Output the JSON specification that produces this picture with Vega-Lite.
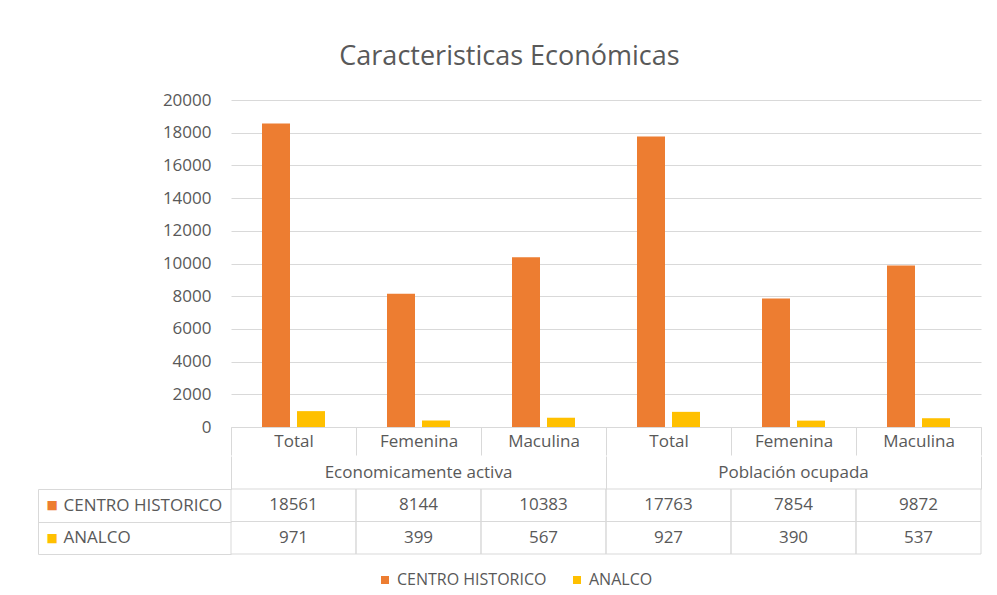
{
  "$schema": "https://vega.github.io/schema/vega-lite/v6.json",
  "background": "white",
  "padding": {"left": 37, "top": 43, "right": 17, "bottom": 5},
  "title": {
    "text": "Caracteristicas Económicas",
    "font": "Open Sans",
    "fontSize": 27,
    "fontWeight": "normal",
    "color": "#595959",
    "anchor": "middle",
    "frame": "bounds",
    "offset": 20
  },
  "datasets": {
    "valores": [
      {"columna": "Economicamente activa|Total", "serie": "CENTRO HISTORICO", "valor": 18561},
      {"columna": "Economicamente activa|Femenina", "serie": "CENTRO HISTORICO", "valor": 8144},
      {"columna": "Economicamente activa|Maculina", "serie": "CENTRO HISTORICO", "valor": 10383},
      {"columna": "Población ocupada|Total", "serie": "CENTRO HISTORICO", "valor": 17763},
      {"columna": "Población ocupada|Femenina", "serie": "CENTRO HISTORICO", "valor": 7854},
      {"columna": "Población ocupada|Maculina", "serie": "CENTRO HISTORICO", "valor": 9872},
      {"columna": "Economicamente activa|Total", "serie": "ANALCO", "valor": 971},
      {"columna": "Economicamente activa|Femenina", "serie": "ANALCO", "valor": 399},
      {"columna": "Economicamente activa|Maculina", "serie": "ANALCO", "valor": 567},
      {"columna": "Población ocupada|Total", "serie": "ANALCO", "valor": 927},
      {"columna": "Población ocupada|Femenina", "serie": "ANALCO", "valor": 390},
      {"columna": "Población ocupada|Maculina", "serie": "ANALCO", "valor": 537}
    ],
    "grupos": [
      {"grupo": "Economicamente activa"},
      {"grupo": "Población ocupada"}
    ]
  },
  "spacing": 0,
  "vconcat": [
    {
      "width": 750,
      "height": 327,
      "data": {"name": "valores"},
      "mark": {"type": "bar"},
      "encoding": {
        "x": {
          "field": "columna",
          "type": "nominal",
          "sort": null,
          "scale": {"type": "band", "paddingInner": 0, "paddingOuter": 0},
          "axis": {
            "title": null,
            "labelExpr": "split(datum.label, '|')[1]",
            "labelAngle": 0,
            "labelBaseline": "middle",
            "labelPadding": -14,
            "tickBand": "extent",
            "tickSize": 28,
            "grid": false,
            "minExtent": 28,
            "maxExtent": 28
          }
        },
        "xOffset": {
          "field": "serie",
          "type": "nominal",
          "sort": ["CENTRO HISTORICO", "ANALCO"],
          "scale": {"paddingInner": 0.2, "paddingOuter": 0.886}
        },
        "y": {
          "field": "valor",
          "type": "quantitative",
          "scale": {"domain": [0, 20000], "nice": false},
          "axis": {
            "title": null,
            "values": [0, 2000, 4000, 6000, 8000, 10000, 12000, 14000, 16000, 18000, 20000],
            "format": "d",
            "grid": true,
            "domain": false,
            "ticks": false,
            "labelPadding": 20,
            "minExtent": 193,
            "maxExtent": 193
          }
        },
        "color": {
          "field": "serie",
          "type": "nominal",
          "sort": ["CENTRO HISTORICO", "ANALCO"],
          "scale": {"domain": ["CENTRO HISTORICO", "ANALCO"], "range": ["#ED7D31", "#FFC000"]},
          "title": null,
          "legend": {"orient": "none", "legendX": 146, "legendY": 472}
        }
      }
    },
    {
      "spacing": -10,
      "vconcat": [
        {
          "width": 750,
          "height": 33,
          "data": {"name": "grupos"},
          "mark": {"type": "text", "fontSize": 17, "color": "#595959"},
          "encoding": {
            "x": {
              "field": "grupo",
              "type": "nominal",
              "sort": null,
              "scale": {"type": "band", "paddingInner": 0, "paddingOuter": 0},
              "axis": {
                "title": null,
                "labels": false,
                "ticks": false,
                "domain": false,
                "grid": true,
                "tickBand": "extent",
                "minExtent": 0,
                "maxExtent": 0
              }
            },
            "text": {"field": "grupo"}
          }
        },
        {
          "width": 750,
          "height": 65,
          "data": {"name": "valores"},
          "encoding": {
            "x": {
              "field": "columna",
              "type": "nominal",
              "sort": null,
              "scale": {"type": "band", "paddingInner": 0, "paddingOuter": 0},
              "axis": null
            }
          },
          "layer": [
            {
              "mark": {"type": "rect", "fillOpacity": 0, "stroke": "#D9D9D9", "strokeWidth": 1},
              "encoding": {
                "y": {
                  "field": "serie",
                  "type": "nominal",
                  "sort": ["CENTRO HISTORICO", "ANALCO"],
                  "scale": {"type": "band", "paddingInner": 0, "paddingOuter": 0},
                  "axis": {
                    "title": null,
                    "orient": "left",
                    "domain": false,
                    "ticks": true,
                    "tickBand": "extent",
                    "tickSize": 193,
                    "labelAlign": "left",
                    "labelBaseline": "middle",
                    "labelPadding": -25,
                    "minExtent": 193,
                    "maxExtent": 193
                  }
                }
              }
            },
            {
              "mark": {"type": "text", "fontSize": 17, "color": "#595959"},
              "encoding": {
                "y": {
                  "field": "serie",
                  "type": "nominal",
                  "sort": ["CENTRO HISTORICO", "ANALCO"],
                  "scale": {"type": "band", "paddingInner": 0, "paddingOuter": 0},
                  "axis": {
                    "title": null,
                    "orient": "left",
                    "offset": 193,
                    "domain": true,
                    "ticks": false,
                    "labelExpr": "'■'",
                    "labelFont": "DejaVu Sans",
                    "labelFontSize": 12,
                    "labelAlign": "left",
                    "labelBaseline": "middle",
                    "labelPadding": -8,
                    "labelColor": {
                      "condition": {"test": "datum.value == 'CENTRO HISTORICO'", "value": "#ED7D31"},
                      "value": "#FFC000"
                    }
                  }
                },
                "text": {"field": "valor", "type": "quantitative", "format": "d"}
              }
            }
          ],
          "resolve": {"scale": {"y": "independent"}, "axis": {"y": "independent"}}
        }
      ]
    }
  ],
  "config": {
    "font": "Open Sans",
    "view": {"stroke": null},
    "axis": {
      "labelFont": "Open Sans",
      "labelFontSize": 17,
      "labelColor": "#595959",
      "gridColor": "#D9D9D9",
      "tickColor": "#D9D9D9",
      "domainColor": "#D9D9D9",
      "gridWidth": 1
    },
    "text": {"font": "Open Sans"},
    "legend": {
      "direction": "horizontal",
      "symbolType": "square",
      "symbolSize": 64,
      "symbolStrokeWidth": 0,
      "labelFont": "Open Sans",
      "labelFontSize": 16,
      "labelColor": "#595959",
      "columnPadding": 22,
      "labelOffset": 4
    }
  }
}
